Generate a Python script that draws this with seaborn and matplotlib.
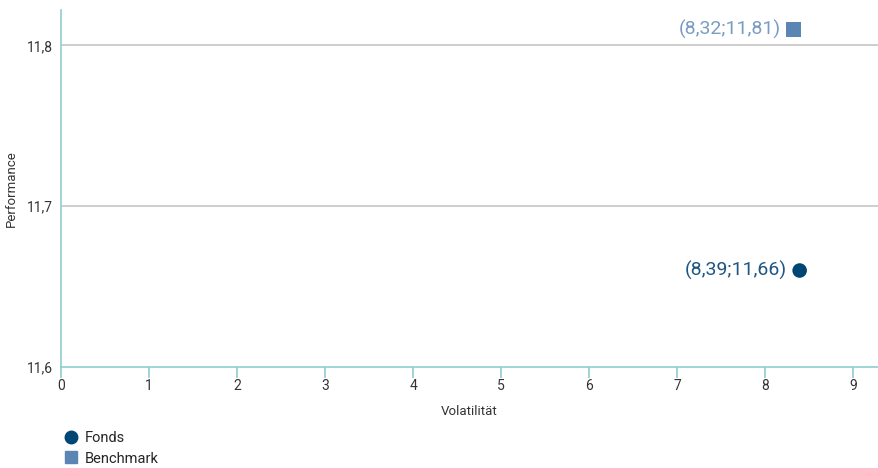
import matplotlib
matplotlib.use("Agg")
import matplotlib.pyplot as plt
import seaborn as sns
import pandas as pd
from matplotlib.ticker import FuncFormatter
from matplotlib.lines import Line2D

names = ["Fonds", "Benchmark"]
volatility = [8.39, 8.32]
performance = [11.66, 11.81]
colors = ["#004675", "#5b86b3"]
label_colors = ["#1f5682", "#7a9cc2"]
markers = ["o", "s"]
x_ticks = [0, 1, 2, 3, 4, 5, 6, 7, 8, 9]
y_ticks = [11.6, 11.7, 11.8]

sns.set_theme(style="white")
plt.rcParams['font.family'] = ['Roboto', 'DejaVu Sans']

df = pd.DataFrame({"name": names, "vol": volatility, "perf": performance})

fig = plt.figure(figsize=(8.79, 4.68), dpi=100)
ax = fig.add_axes([61/879, 101/468, 817/879, 357/468])

sns.scatterplot(data=df, x="vol", y="perf", hue="name", style="name",
                palette=dict(zip(names, colors)), markers=dict(zip(names, markers)),
                s=110, linewidth=0, ax=ax, legend=False, zorder=5)

ax.set_xlim(0, 9.28)
ax.set_ylim(11.6, 11.822)
ax.set_xticks(x_ticks)
ax.set_yticks(y_ticks)
ax.xaxis.set_major_formatter(FuncFormatter(lambda v, p: f"{v:g}".replace(".", ",")))
ax.yaxis.set_major_formatter(FuncFormatter(lambda v, p: f"{v:.1f}".replace(".", ",")))

for y in y_ticks[1:]:
    ax.axhline(y, color="#c6c6c6", lw=1.2, zorder=1)

for s in ["top", "right"]:
    ax.spines[s].set_visible(False)
for s in ["left", "bottom"]:
    ax.spines[s].set_color("#8fcdd0")
    ax.spines[s].set_linewidth(1.2)

ax.tick_params(axis="x", length=8, width=1.2, color="#8fcdd0", labelsize=10,
               labelcolor="#333333", pad=1, bottom=True)
ax.tick_params(axis="y", length=0, labelsize=10, labelcolor="#333333", pad=6, left=False)

ax.set_xlabel("Volatilität", fontsize=9.5, color="#333333", labelpad=8)
ax.set_ylabel("Performance", fontsize=9.5, color="#333333", labelpad=6)

for n, x, y, c in zip(names, volatility, performance, label_colors):
    txt = f"({x:.2f};{y:.2f})".replace(".", ",")
    ax.annotate(txt, (x, y), xytext=(-9, 0), textcoords="offset points",
                ha="right", va="center", fontsize=14, color=c, zorder=6)

handles = [Line2D([], [], marker=m, color=c, linestyle="none", markersize=9)
           for m, c in zip(markers, colors)]
fig.legend(handles, names, loc="upper left", bbox_to_anchor=(62/879, 1 - 431/468),
           frameon=False, fontsize=10.5, handletextpad=0.35, labelspacing=0.45,
           handlelength=1.2, borderaxespad=0, borderpad=0)

fig.savefig("out.png", dpi=100)
